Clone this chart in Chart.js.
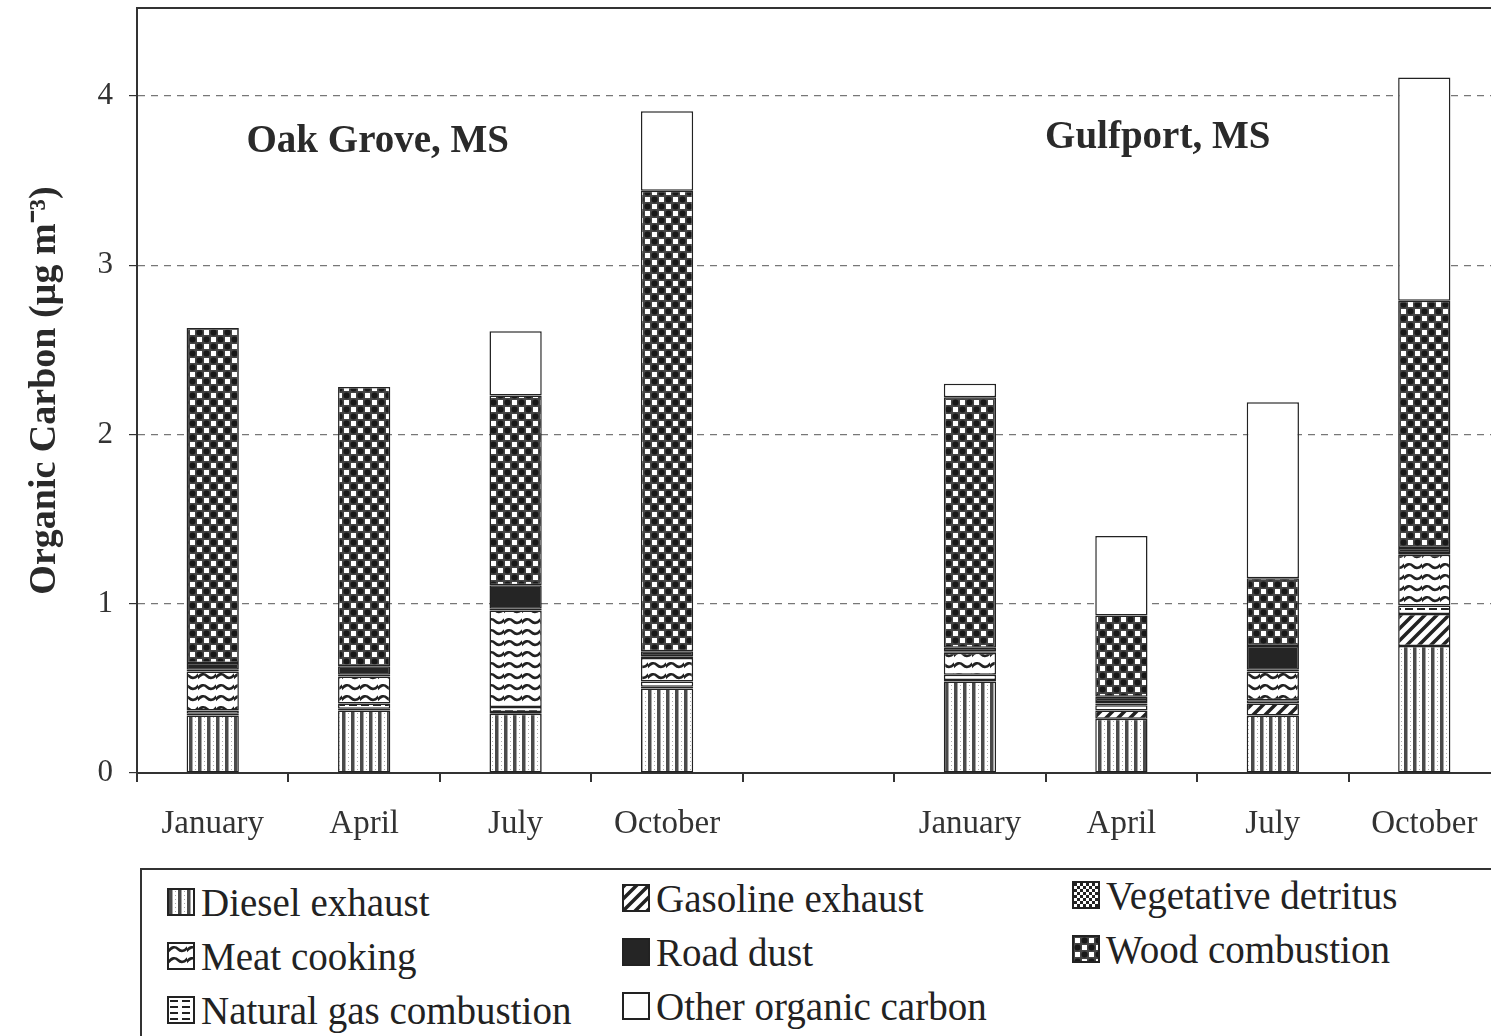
<!DOCTYPE html>
<html>
<head>
<meta charset="utf-8">
<script src="https://cdn.jsdelivr.net/npm/chart.js@4.4.1/dist/chart.umd.min.js"></script>
<style>
  html, body { margin: 0; padding: 0; background: #fff; overflow: hidden; width: 1491px; height: 1036px; }
  #wrap { position: absolute; left: 0; top: 0; width: 1500px; height: 865px; }
  #legend { position: absolute; left: 140px; top: 868px; width: 1380px; height: 190px; border: 2px solid #333;
            box-sizing: border-box; font-family: 'Liberation Serif', 'Times New Roman', serif; font-size: 39px; color: #222; }
  .item { position: absolute; display: flex; align-items: center; white-space: nowrap; height: 40px; }
  .item canvas { width: 24px; height: 24px; border: 2px solid #222; margin-right: 6px; }
</style>
</head>
<body>
<div id="wrap"><canvas id="chart"></canvas></div>
<div id="legend"></div>
<script>
// Categories: two sites, four months each, with an empty slot between them
const categories = ['January', 'April', 'July', 'October', '', 'January', 'April', 'July', 'October'];
const siteNames = ['Oak Grove, MS', 'Gulfport, MS'];
const siteLabelAt = [1.09, 6.24];      // category position of the site headings
const siteLabelValue = [3.73, 3.75];   // height on the y axis

// Source contributions (µg m-3), bottom of the stack first
const diesel     = [0.34, 0.37, 0.35, 0.50, null, 0.54, 0.32, 0.34, 0.75];
const gasoline   = [0.01, 0.01, 0.01, 0.01, null, 0.01, 0.05, 0.07, 0.19];
const naturalGas = [0.02, 0.03, 0.03, 0.03, null, 0.03, 0.03, 0.02, 0.05];
const meat       = [0.23, 0.16, 0.57, 0.14, null, 0.13, 0.01, 0.17, 0.30];
const vegetative = [0.01, 0.01, 0.01, 0.01, null, 0.01, 0.01, 0.01, 0.01];
const roadDust   = [0.04, 0.05, 0.14, 0.03, null, 0.02, 0.03, 0.14, 0.03];
const wood       = [1.98, 1.65, 1.12, 2.72, null, 1.48, 0.48, 0.40, 1.46];
const otherOC    = [0.00, 0.00, 0.38, 0.47, null, 0.08, 0.47, 1.04, 1.32];

const yTicks = [0, 1, 2, 3, 4];
const legendOrder = ['Diesel exhaust', 'Gasoline exhaust', 'Vegetative detritus',
                     'Meat cooking', 'Road dust', 'Wood combustion',
                     'Natural gas combustion', 'Other organic carbon'];

const SERIF = "'Liberation Serif', 'Times New Roman', serif";

// Small tiles turned into fill patterns, like the hatching in the print
function makePattern(w, h, draw) {
    const c = document.createElement('canvas');
    c.width = w; c.height = h;
    const g = c.getContext('2d');
    draw(g, w, h);
    return g.createPattern(c, 'repeat');
}

const fills = {
    'Diesel exhaust': makePattern(9, 4, (g, w, h) => {
        g.fillStyle = '#fff'; g.fillRect(0, 0, w, h);
        g.fillStyle = '#4a4a4a'; g.fillRect(0, 0, 3.5, h);
        g.fillStyle = '#aaa'; g.fillRect(6, 1, 1, 1);
    }),
    'Gasoline exhaust': makePattern(12, 12, (g, w, h) => {
        g.fillStyle = '#fff'; g.fillRect(0, 0, w, h);
        g.strokeStyle = '#222'; g.lineWidth = 3.5;
        g.beginPath();
        g.moveTo(-6, 6); g.lineTo(6, -6);
        g.moveTo(0, 12); g.lineTo(12, 0);
        g.moveTo(6, 18); g.lineTo(18, 6);
        g.stroke();
    }),
    'Natural gas combustion': makePattern(12, 6, (g, w, h) => {
        g.fillStyle = '#fff'; g.fillRect(0, 0, w, h);
        g.fillStyle = '#222'; g.fillRect(1, 2, 8, 2);
    }),
    'Meat cooking': makePattern(18, 11, (g, w, h) => {
        g.fillStyle = '#fff'; g.fillRect(0, 0, w, h);
        g.strokeStyle = '#222'; g.lineWidth = 2.6; g.lineJoin = 'round';
        g.beginPath();
        g.moveTo(-1, 7.5); g.quadraticCurveTo(4.5, 0.5, 9, 5); g.quadraticCurveTo(13.5, 9.5, 19, 3);
        g.stroke();
    }),
    'Vegetative detritus': makePattern(6, 6, (g, w, h) => {
        g.fillStyle = '#fff'; g.fillRect(0, 0, w, h);
        g.fillStyle = '#222'; g.fillRect(0, 0, 3, 3); g.fillRect(3, 3, 3, 3);
    }),
    'Road dust': '#252525',
    'Wood combustion': makePattern(14, 14, (g, w, h) => {
        g.fillStyle = '#444'; g.fillRect(0, 0, w, h);
        g.fillStyle = '#fff'; g.fillRect(1, 1, 5, 5); g.fillRect(8, 8, 5, 5);
        g.fillStyle = '#181818';
        g.beginPath(); g.arc(10.5, 3.5, 3, 0, Math.PI * 2); g.fill();
        g.beginPath(); g.arc(3.5, 10.5, 3, 0, Math.PI * 2); g.fill();
    }),
    'Other organic carbon': '#fff'
};

const stack = [
    ['Diesel exhaust', diesel],
    ['Gasoline exhaust', gasoline],
    ['Natural gas combustion', naturalGas],
    ['Meat cooking', meat],
    ['Vegetative detritus', vegetative],
    ['Road dust', roadDust],
    ['Wood combustion', wood],
    ['Other organic carbon', otherOC]
];

const datasets = stack.map(([label, data]) => ({
    label: label,
    data: data,
    backgroundColor: fills[label],
    borderColor: '#222',
    borderWidth: 1.5,
    borderSkipped: false,
    barPercentage: 0.345,
    categoryPercentage: 1
}));

// Site headings and the top frame line
const decorPlugin = {
    id: 'decor',
    afterDraw(chart) {
        const { ctx, chartArea, scales } = chart;
        ctx.save();
        ctx.strokeStyle = '#333';
        ctx.lineWidth = 2;
        ctx.beginPath();
        ctx.moveTo(chartArea.left, chartArea.top);
        ctx.lineTo(chartArea.right, chartArea.top);
        ctx.stroke();
        ctx.fillStyle = '#2a2a2a';
        ctx.font = 'bold 39px ' + SERIF;
        ctx.textAlign = 'center';
        ctx.textBaseline = 'middle';
        siteNames.forEach((name, i) => {
            ctx.fillText(name, scales.x.getPixelForValue(siteLabelAt[i]), scales.y.getPixelForValue(siteLabelValue[i]));
        });
        ctx.restore();
    }
};

new Chart(document.getElementById('chart'), {
    type: 'bar',
    data: { labels: categories, datasets: datasets },
    plugins: [decorPlugin],
    options: {
        responsive: true,
        maintainAspectRatio: false,
        animation: false,
        layout: { padding: { top: 8, left: 0, right: 0, bottom: 0 } },
        plugins: { legend: { display: false }, tooltip: { enabled: false } },
        scales: {
            x: {
                stacked: true,
                afterFit: scale => { scale.height = 92; scale.paddingLeft = 0; scale.paddingRight = 0; },
                grid: { offset: true, drawOnChartArea: false, drawTicks: true, tickLength: 9, color: '#333', lineWidth: 2 },
                border: { color: '#333', width: 2 },
                ticks: { color: '#333', padding: 23, maxRotation: 0, autoSkip: false, font: { family: SERIF, size: 33 } }
            },
            y: {
                stacked: true,
                min: 0,
                max: 4.52,
                afterFit: scale => { scale.width = 137; scale.paddingTop = 0; scale.paddingBottom = 0; },
                afterBuildTicks: scale => { scale.ticks = yTicks.map(v => ({ value: v })); },
                ticks: { color: '#333', padding: 16, font: { family: SERIF, size: 31 } },
                grid: {
                    color: c => c.tick && c.tick.value === 0 ? 'rgba(0,0,0,0)' : '#777',
                    lineWidth: 1.2, tickColor: '#333', tickLength: 8
                },
                border: { color: '#333', width: 2, dash: [7, 6] },
                title: {
                    display: true,
                    text: 'Organic Carbon (µg m⁻³)',
                    color: '#2a2a2a',
                    padding: { top: 22, bottom: 0 },
                    font: { family: SERIF, size: 38, weight: 'bold' }
                }
            }
        }
    }
});

// Legend box in three columns
const legend = document.getElementById('legend');
const colX = [25, 480, 930];
const colShift = [0, -4, -7];
const rowY = [12, 66, 120];
legendOrder.forEach((label, i) => {
    const item = document.createElement('div');
    item.className = 'item';
    item.style.left = colX[i % 3] + 'px';
    item.style.top = (rowY[Math.floor(i / 3)] + colShift[i % 3]) + 'px';
    const icon = document.createElement('canvas');
    icon.width = 24; icon.height = 24;
    const g = icon.getContext('2d');
    g.fillStyle = fills[label];
    g.fillRect(0, 0, 24, 24);
    const text = document.createElement('span');
    text.textContent = label;
    item.appendChild(icon);
    item.appendChild(text);
    legend.appendChild(item);
});
</script>
</body>
</html>
